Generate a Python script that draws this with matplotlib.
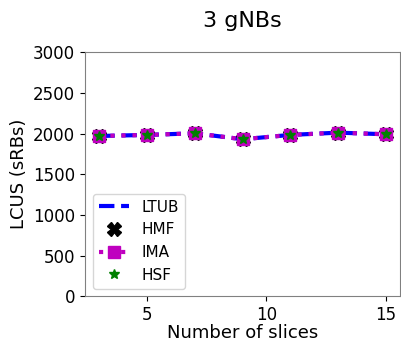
import matplotlib
matplotlib.use('Agg')
import matplotlib.pyplot as plt

slices = [3, 5, 7, 9, 11, 13, 15]
ltub = [1970, 1983, 2003, 1930, 1983, 2011, 1991]
hmf = [1970, 1983, 2003, 1930, 1983, 2011, 1991]
ima = [1970, 1983, 2003, 1930, 1983, 2011, 1991]
hsf = [1970, 1983, 2003, 1930, 1983, 2011, 1991]

fig, ax = plt.subplots(figsize=(4.01, 3.43), dpi=100)
ax.plot(slices, ltub, 'b--', lw=3, label='LTUB')
ax.plot(slices, hmf, 'X', color='black', ms=10, ls='none', label='HMF')
ax.plot(slices, ima, ':', color='m', marker='s', ms=8, lw=3, label='IMA')
ax.plot(slices, hsf, '*', color='green', ms=7, ls='none', label='HSF')

ax.set_ylim(0, 3000)
ax.set_xticks([5, 10, 15])
ax.set_yticks(range(0, 3001, 500))
ax.tick_params(labelsize=12)
ax.set_xlabel('Number of slices', fontsize=13, labelpad=0)
ax.set_ylabel('LCUS (sRBs)', fontsize=13)
ax.set_title('3 gNBs', fontsize=16, pad=18)
for s in ax.spines.values():
    s.set_color('gray')
ax.legend(loc='lower left', fontsize=11)
fig.subplots_adjust(left=0.212, right=0.998, top=0.848, bottom=0.136)
fig.savefig('out.png')
